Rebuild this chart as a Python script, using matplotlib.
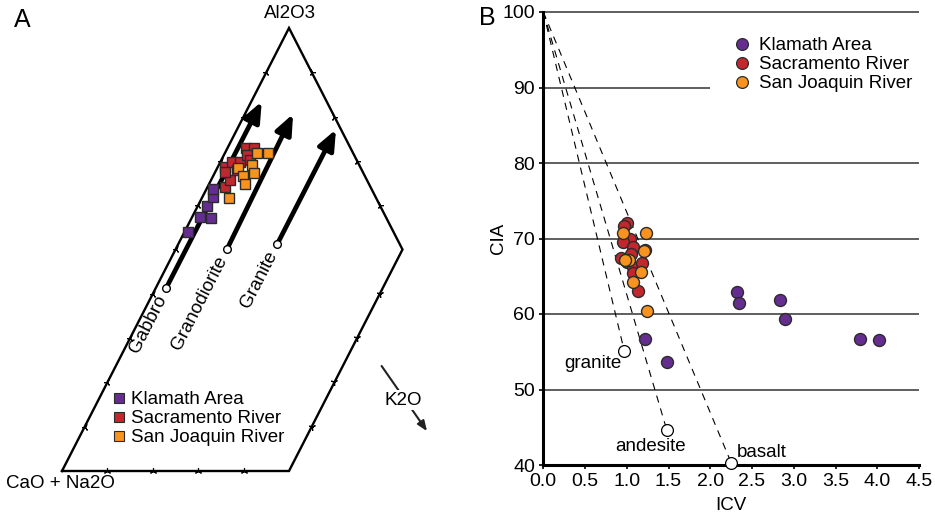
import matplotlib
matplotlib.use("Agg")
import matplotlib.pyplot as plt
from matplotlib.lines import Line2D
import numpy as np

plt.rcParams["font.family"] = ["Liberation Sans", "DejaVu Sans"]
FS = 13.5

SOURCES = ["Klamath Area", "Sacramento River", "San Joaquin River"]
COLORS = ["#662d91", "#c1272d", "#f7931e"]
EDGE = "#2b2b2b"

# panel A: ternary A-CN-K, values in % (A = Al2O3, K = K2O)
a_klamath = [54.0, 57.4, 57.2, 59.8, 61.9, 63.6]
k_klamath = [0.7, 1.7, 4.2, 2.0, 2.4, 1.5]
a_sacramento = [64.0, 65.7, 68.7, 69.8, 67.6, 69.8, 73.0, 73.0, 71.3, 70.2, 67.9]
k_sacramento = [3.9, 4.2, 1.5, 2.5, 2.1, 4.3, 4.0, 5.9, 5.0, 6.3, 4.6]
a_sanjoaquin = [71.7, 71.7, 68.3, 69.1, 67.3, 66.6, 64.7, 61.6]
k_sanjoaquin = [7.0, 9.6, 4.7, 7.3, 8.6, 6.5, 8.0, 5.9]

# weathering trends: parent rock (A, K) -> end of arrow (A, K)
rocks = ["Gabbro", "Granodiorite", "Granite"]
rock_start = [(41.3, 2.3), (50.1, 11.3), (51.2, 21.8)]
rock_end = [(83.4, 2.3), (80.6, 10.6), (77.1, 21.8)]

# panel B: ICV vs CIA
icv_klamath = [2.32, 2.35, 2.83, 2.89, 3.79, 4.02, 1.22, 1.48]
cia_klamath = [62.9, 61.5, 61.9, 59.3, 56.7, 56.6, 56.7, 53.6]
icv_sacramento = [1.00, 0.97, 1.04, 0.96, 1.07, 1.05, 1.22, 0.93, 1.00, 1.07, 1.18, 1.08, 1.14]
cia_sacramento = [72.0, 71.6, 70.0, 69.5, 68.9, 68.0, 68.5, 67.4, 66.9, 66.2, 66.8, 65.4, 63.0]
icv_sanjoaquin = [0.95, 1.23, 1.21, 1.03, 0.98, 1.17, 1.08, 1.24]
cia_sanjoaquin = [70.7, 70.7, 68.3, 67.2, 67.1, 65.5, 64.3, 60.4]

rock_names = ["granite", "andesite", "basalt"]
rock_icv = [0.97, 1.48, 2.25]
rock_cia = [55.1, 44.6, 40.3]


def tern(a, k):
    a = np.asarray(a, float) / 100
    k = np.asarray(k, float) / 100
    return np.broadcast_arrays(k + a / 2, a)


fig = plt.figure(figsize=(9.35, 5.14), dpi=100)

# ---------------- panel A ----------------
ax = fig.add_axes([62 / 935, 43 / 514, 454 / 935, 443 / 514])
ax.set_xlim(0, 1)
ax.set_ylim(0, 1)
ax.set_axis_off()
ang = np.degrees(np.arctan2(443, 227))

outline = np.array([[0, 0], [0.5, 1], [0.75, 0.5], [0.5, 0], [0, 0]])
ax.plot(outline[:, 0], outline[:, 1], color="k", lw=1.7, clip_on=False,
        solid_joinstyle="miter")

tick_kw = dict(ls="none", color="k", ms=5, mew=0.8, clip_on=False)
steps = np.arange(10, 100, 10)
u, v = tern(steps, 0)
ax.plot(u, v, marker=(3, 2, ang - 90), **tick_kw)
u, v = tern([90, 80, 70, 60], [10, 20, 30, 40])
ax.plot(u, v, marker=(3, 2, 90 - ang), **tick_kw)
u, v = tern([40, 30, 20, 10], 50)
ax.plot(u, v, marker=(3, 2, ang), **tick_kw)
u, v = tern(0, [10, 20, 30, 40])
ax.plot(u, v, marker=(3, 2, 0), **tick_kw)

for name, s, e in zip(rocks, rock_start, rock_end):
    x0, y0 = tern(*s)
    x1, y1 = tern(*e)
    ax.annotate("", xy=(x1, y1), xytext=(x0, y0),
                arrowprops=dict(arrowstyle="-|>,head_length=0.6,head_width=0.25",
                                mutation_scale=20, lw=3.4, color="k",
                                shrinkA=0, shrinkB=0))
    ax.plot(x0, y0, "o", ms=5.5, mfc="white", mec="k", mew=1, zorder=5)
    ax.annotate(name, (x0, y0), xytext=(-3.0, -5.8), textcoords="offset points",
                rotation=ang, rotation_mode="anchor", ha="right", va="center",
                fontsize=FS)

for a, k, c in zip([a_klamath, a_sacramento, a_sanjoaquin],
                   [k_klamath, k_sacramento, k_sanjoaquin], COLORS):
    u, v = tern(a, k)
    ax.plot(u, v, "s", ms=6.5, mfc=c, mec=EDGE, mew=1.0, ls="none", zorder=4)

handles = [Line2D([], [], marker="s", ls="none", ms=7.5, mfc=c, mec=EDGE, mew=0.8)
           for c in COLORS]
ax.legend(handles, SOURCES, loc="upper left", bbox_to_anchor=(0.1137, 0.18),
          frameon=False, fontsize=FS, handlelength=0.6, handletextpad=0.35,
          labelspacing=0.1, borderpad=0, borderaxespad=0)

ax.text(0.502, 1.032, "Al2O3", ha="center", va="center", fontsize=FS)
ax.text(-0.004, -0.029, "CaO + Na2O", ha="center", va="center", fontsize=FS)
ax.annotate("", xy=(0.804, 0.090), xytext=(0.704, 0.237),
            arrowprops=dict(arrowstyle="-|>,head_length=0.5,head_width=0.2",
                            mutation_scale=12, lw=1.5, color="#222222",
                            shrinkA=0, shrinkB=0))
ax.text(0.751, 0.160, "K2O", ha="center", va="center", fontsize=FS,
        bbox=dict(fc="white", ec="none", pad=1))
fig.text(22 / 935, 1 - 20 / 514, "A", ha="center", va="center", fontsize=18)

# ---------------- panel B ----------------
bx = fig.add_axes([543.3 / 935, 49 / 514, 375.7 / 935, 453 / 514])
bx.set_xlim(0, 4.5)
bx.set_ylim(40, 100)
for sp in ["top", "right"]:
    bx.spines[sp].set_visible(False)
for sp in ["left", "bottom"]:
    bx.spines[sp].set_linewidth(2.2)
    bx.spines[sp].set_zorder(6)

grid_y = [100, 90, 80, 70, 60, 50]
grid_end = [4.5, 2.0, 4.5, 4.5, 4.5, 4.5]
bx.hlines(grid_y, 0, grid_end, color="#333333", lw=1.1, zorder=1, clip_on=False)

bx.set_xticks(np.arange(0, 4.51, 0.5))
bx.set_xticklabels([f"{t:.1f}" for t in np.arange(0, 4.51, 0.5)])
bx.set_yticks(np.arange(40, 101, 10))
bx.tick_params(labelsize=14, length=3, width=1.2, pad=3)
bx.set_xlabel("ICV", fontsize=FS, labelpad=5)
bx.set_ylabel("CIA", fontsize=FS, labelpad=-3)

for x, y in zip(rock_icv, rock_cia):
    bx.plot([0, x], [100, y], ls=(0, (6.5, 5.5)), color="k", lw=0.8, zorder=2)
bx.plot(rock_icv, rock_cia, "o", ms=8.5, mfc="white", mec="k", mew=0.9,
        ls="none", zorder=7, clip_on=False)
bx.text(0.94, 53.5, rock_names[0], ha="right", va="center", fontsize=FS)
bx.text(1.285, 42.4, rock_names[1], ha="center", va="center", fontsize=FS)
bx.text(2.32, 41.6, rock_names[2], ha="left", va="center", fontsize=FS)

for x, y, c in zip([icv_klamath, icv_sacramento, icv_sanjoaquin],
                   [cia_klamath, cia_sacramento, cia_sanjoaquin], COLORS):
    bx.scatter(x, y, s=74, c=c, edgecolors=EDGE, linewidths=1.0, zorder=4)

handles = [Line2D([], [], marker="o", ls="none", ms=8.5, mfc=c, mec=EDGE, mew=0.9)
           for c in COLORS]
bx.legend(handles, SOURCES, loc="upper left", bbox_to_anchor=(0.503, 0.944),
          frameon=False, fontsize=FS, handlelength=1.0, handletextpad=0.4,
          labelspacing=0.1, borderpad=0, borderaxespad=0)
fig.text(487 / 935, 1 - 18 / 514, "B", ha="center", va="center", fontsize=18)

fig.savefig("out.png", dpi=100)
